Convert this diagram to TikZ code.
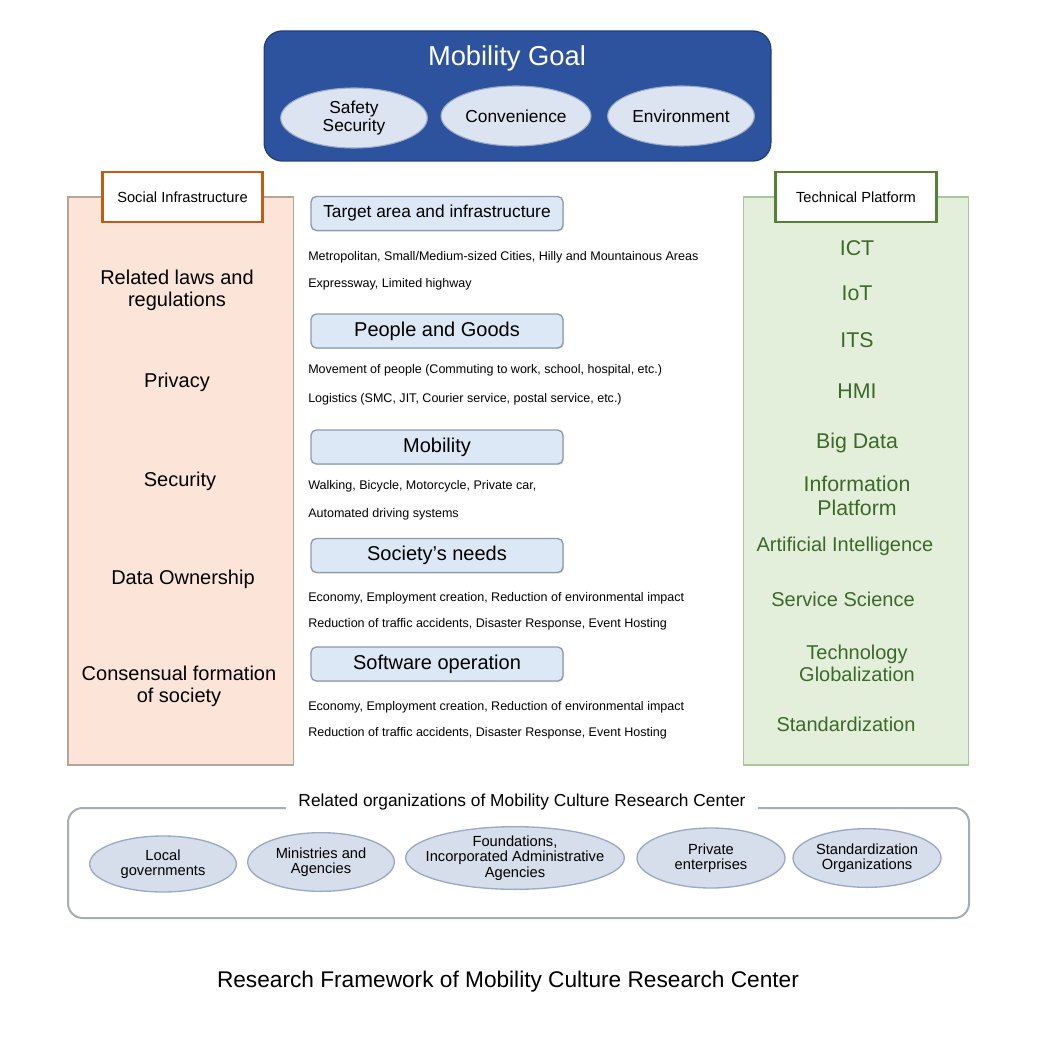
\documentclass[tikz,border=0pt]{standalone}
\usepackage{fontspec}
\setmainfont{Liberation Sans}
\usetikzlibrary{shapes.geometric,shadows}

\definecolor{goalblue}{HTML}{2D539E}
\definecolor{goalrim}{HTML}{22407F}
\definecolor{ovalfill}{HTML}{DCE3F1}
\definecolor{ovalrim}{HTML}{9AA9C6}
\definecolor{socfill}{HTML}{FCE5D8}
\definecolor{socrim}{HTML}{B7A698}
\definecolor{socline}{HTML}{C55A11}
\definecolor{techfill}{HTML}{E3EFDB}
\definecolor{techrim}{HTML}{A9C79A}
\definecolor{techline}{HTML}{548235}
\definecolor{techtext}{HTML}{3B6A28}
\definecolor{headfill}{HTML}{DCE8F6}
\definecolor{headrim}{HTML}{8D9AAD}
\definecolor{orgrim}{HTML}{A6ADB6}
\definecolor{orgfill}{HTML}{D6DDEB}

\begin{document}
\begin{tikzpicture}[x=0.75pt, y=-0.75pt,
    goaloval/.style={ellipse, draw=ovalrim, fill=ovalfill, line width=0.8pt,
        minimum width=110pt, minimum height=45pt, inner sep=0pt, align=center,
        font=\fontsize{13}{13.5}\selectfont},
    sidebox/.style={draw, line width=1pt, minimum width=169pt, minimum height=426pt},
    tagbox/.style={draw, fill=white, line width=2.2pt, minimum width=120.5pt,
        minimum height=37.5pt, font=\fontsize{11}{13}\selectfont},
    lefttext/.style={align=center, font=\fontsize{15}{16.5}\selectfont},
    righttext/.style={align=center, text=techtext, font=\fontsize{16}{18.5}\selectfont},
    headbox/.style={draw=headrim, fill=headfill, line width=1pt, rounded corners=4pt,
        minimum width=189pt, minimum height=25.5pt, inner sep=0pt,
        drop shadow={shadow xshift=0.8pt, shadow yshift=-0.8pt, opacity=0.25},
        font=\fontsize{15}{17}\selectfont},
    itemtext/.style={anchor=west, inner sep=0pt, font=\fontsize{9.4}{11}\selectfont},
    orgoval/.style={ellipse, draw=ovalrim, fill=orgfill, line width=1pt,
        minimum width=110pt, minimum height=44pt, inner xsep=-14pt, inner ysep=-3pt,
        align=center, font=\fontsize{11}{11.5}\selectfont}]

    % Page
    \useasboundingbox[fill=white] (0,0) rectangle (1042,1048);

    % Draw goal box
    \node[draw=goalrim, fill=goalblue, line width=1pt, rounded corners=13.5pt,
        minimum width=380pt, minimum height=97.5pt] (goal) at (517.5,96) {};
    \node[text=white, font=\fontsize{20.5}{24}\selectfont] (goaltitle) at (507,58) {Mobility Goal};
    \node[goaloval] (safety) at (354,118) {Safety\\Security};
    \node[goaloval, minimum width=112.5pt] (conv) at (516,116) {Convenience};
    \node[goaloval] (env) at (681,116) {Environment};

    % Draw social infrastructure column
    \node[sidebox, draw=socrim, fill=socfill] (social) at (180.5,481) {};
    \node[tagbox, draw=socline] (socialtag) at (182.5,197) {Social Infrastructure};
    \node[lefttext] (laws) at (177,290) {Related laws and\\regulations};
    \node[lefttext] (privacy) at (177,382) {Privacy};
    \node[lefttext] (security) at (180,481) {Security};
    \node[lefttext] (owner) at (183,579) {Data Ownership};
    \node[lefttext] (consensus) at (179,686) {Consensual formation\\of society};

    % Draw technical platform column
    \node[sidebox, draw=techrim, fill=techfill] (tech) at (856,481) {};
    \node[tagbox, draw=techline] (techtag) at (856,197) {Technical Platform};
    \node[righttext] (ict) at (857,248) {ICT};
    \node[righttext] (iot) at (857,293) {IoT};
    \node[righttext] (its) at (857,340) {ITS};
    \node[righttext] (hmi) at (857,391) {HMI};
    \node[righttext] (bigdata) at (857,443) {Big Data};
    \node[righttext] (infoplat) at (857,496) {Information\\Platform};
    \node[righttext, font=\fontsize{15}{16.5}\selectfont] (ai) at (845,546) {Artificial Intelligence};
    \node[righttext, font=\fontsize{15}{16.5}\selectfont] (service) at (843,599) {Service Science};
    \node[righttext, font=\fontsize{15}{16.5}\selectfont] (globe) at (857,663) {Technology\\Globalization};
    \node[righttext, font=\fontsize{15}{16.5}\selectfont] (standard) at (846,724) {Standardization};

    % Draw research areas
    \node[headbox, font=\fontsize{13}{15}\selectfont] (target) at (437,213.5) {Target area and infrastructure};
    \node[itemtext] (target1) at (308,257) {Metropolitan, Small/Medium-sized Cities, Hilly and Mountainous Areas};
    \node[itemtext] (target2) at (308,284) {Expressway, Limited highway};

    \node[headbox] (people) at (437,331) {People and Goods};
    \node[itemtext] (people1) at (308,370) {Movement of people (Commuting to work, school, hospital, etc.)};
    \node[itemtext] (people2) at (308,399) {Logistics (SMC, JIT, Courier service, postal service, etc.)};

    \node[headbox] (mobility) at (437,447) {Mobility};
    \node[itemtext] (mobility1) at (308,486) {Walking, Bicycle, Motorcycle, Private car,};
    \node[itemtext] (mobility2) at (308,514) {Automated driving systems};

    \node[headbox] (needs) at (437,555.5) {Society’s needs};
    \node[itemtext] (needs1) at (308,598) {Economy, Employment creation, Reduction of environmental impact};
    \node[itemtext] (needs2) at (308,624) {Reduction of traffic accidents, Disaster Response, Event Hosting};

    \node[headbox] (software) at (437,664) {Software operation};
    \node[itemtext] (software1) at (308,707) {Economy, Employment creation, Reduction of environmental impact};
    \node[itemtext] (software2) at (308,733) {Reduction of traffic accidents, Disaster Response, Event Hosting};

    % Draw related organizations
    \node[draw=orgrim, line width=1.5pt, rounded corners=11pt,
        minimum width=675.75pt, minimum height=82.5pt] (orgs) at (518.5,863) {};
    \node[fill=white, inner xsep=9pt, inner ysep=2pt, font=\fontsize{13}{15}\selectfont]
        (orgstitle) at (522,802) {Related organizations of Mobility Culture Research Center};
    \node[orgoval, minimum height=42pt] (local) at (163,864) {Local\\governments};
    \node[orgoval] (ministry) at (321,862) {Ministries and\\Agencies};
    \node[orgoval, minimum width=164pt, minimum height=47pt] (found) at (515,858) {Foundations,\\Incorporated Administrative\\Agencies};
    \node[orgoval, minimum width=111pt, minimum height=45pt] (private) at (711,858) {Private\\enterprises};
    \node[orgoval, minimum width=111pt] (stdorg) at (867,858) {Standardization\\Organizations};

    % Caption
    \node[font=\fontsize{17}{20}\selectfont] (caption) at (508,982) {Research Framework of Mobility Culture Research Center};
\end{tikzpicture}
\end{document}
